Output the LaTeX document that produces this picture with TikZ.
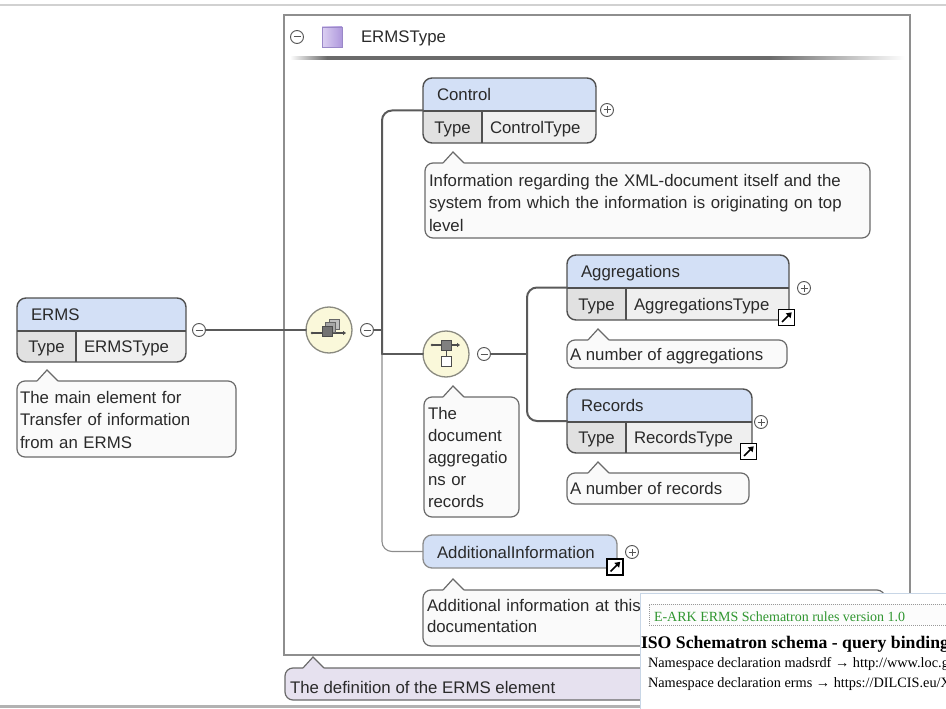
\documentclass[tikz,border=0pt]{standalone}
\usepackage{fontspec}
\setmainfont{Liberation Sans}
\newfontfamily\serifface{Liberation Serif}
\usetikzlibrary{arrows.meta}

\definecolor{textgray}{HTML}{2A2A2A}
\definecolor{boxline}{HTML}{505050}
\definecolor{hdrblue}{HTML}{D3E0F6}
\definecolor{rowgray}{HTML}{EFEFEF}
\definecolor{typegray}{HTML}{E1E1E1}
\definecolor{notefill}{HTML}{FAFAFA}
\definecolor{notegray}{HTML}{6A6A6A}
\definecolor{defill}{HTML}{E6E1EF}
\definecolor{conngray}{HTML}{5A5A5A}
\definecolor{thingray}{HTML}{8C8C8C}
\definecolor{framegray}{HTML}{8E8E8E}
\definecolor{compfill}{HTML}{FAF8DA}
\definecolor{compline}{HTML}{8A8A80}
\definecolor{pmgray}{HTML}{555555}
\definecolor{purpleL}{HTML}{DCD0F2}
\definecolor{purpleR}{HTML}{AE98DC}
\definecolor{purpleedge}{HTML}{9A88C8}
\definecolor{ruleGreen}{RGB}{48,150,48}
\definecolor{overlayedge}{HTML}{C8D6E6}

% header separator: fades in on the left and out on the right
% (the 25bp..75bp band is what gets fitted onto the path)
\pgfdeclarehorizontalshading{sepshade}{100bp}{%
  color(0bp)=(white); color(25bp)=(white); color(28bp)=(black!58);
  color(64bp)=(black!58); color(75bp)=(white); color(100bp)=(white)}

\tikzset{
  every node/.style={inner sep=0pt, outer sep=0pt},
  lbl/.style={text=textgray, font=\fontsize{16.8}{22.5}\selectfont, anchor=base west},
  elem/.style={draw=boxline, line width=1.4pt, rounded corners=9pt, rectangle,
    path picture={
      \fill[hdrblue, sharp corners] (path picture bounding box.north west)
        rectangle ([yshift=-33pt]path picture bounding box.north east);
      \fill[rowgray, sharp corners] ([yshift=-33pt]path picture bounding box.north west)
        rectangle (path picture bounding box.south east);
      \fill[typegray, sharp corners] ([yshift=-33pt]path picture bounding box.north west)
        rectangle ([xshift=59pt]path picture bounding box.south west);
      \draw[boxline, line width=1.2pt, sharp corners] ([yshift=-33pt]path picture bounding box.north west)
        -- ([yshift=-33pt]path picture bounding box.north east);
      \draw[boxline, line width=1.2pt, sharp corners] ([xshift=59pt,yshift=-33pt]path picture bounding box.north west)
        -- ([xshift=59pt]path picture bounding box.south west);
    }},
  optelem/.style={draw=thingray, line width=1.3pt, rounded corners=9pt, fill=hdrblue, rectangle},
  note/.style={draw=notegray, line width=1.2pt, rounded corners=8pt, rectangle},
  noteline/.style={draw=notegray, line width=1.2pt, line join=miter},
  pm/.style={circle, draw=pmgray, line width=0.9pt, fill=white, minimum size=13pt},
  minus/.style={pm, path picture={
      \draw[pmgray, line width=1pt] ([xshift=-3.5pt]path picture bounding box.center)
        -- ([xshift=3.5pt]path picture bounding box.center);}},
  plus/.style={pm, path picture={
      \draw[pmgray, line width=1pt] ([xshift=-3.5pt]path picture bounding box.center)
        -- ([xshift=3.5pt]path picture bounding box.center);
      \draw[pmgray, line width=1pt] ([yshift=-3.5pt]path picture bounding box.center)
        -- ([yshift=3.5pt]path picture bounding box.center);}},
  comp/.style={circle, draw=compline, line width=1.3pt, fill=compfill, minimum size=46pt},
  linkicon/.style={rectangle, draw=black, line width=1.1pt, fill=white, minimum size=16pt,
    path picture={
      \draw[black, line width=1.7pt, -{Triangle[length=5pt,width=6.5pt]}]
        ([shift={(3.5pt,3.5pt)}]path picture bounding box.south west)
        -- ([shift={(-2.8pt,-2.8pt)}]path picture bounding box.north east);}},
  conn/.style={draw=conngray, line width=2pt, line cap=round},
  thinconn/.style={draw=thingray, line width=1.1pt},
  frame/.style={draw=framegray, line width=2pt, rectangle},
  overlaytext/.style={text=black, anchor=base west, font=\serifface\fontsize{14.3}{16}\selectfont},
}

% element box: name, x1, y1, x2, y2, element name, type name
\newcommand\elembox[7]{%
  \node[elem, minimum width={#4-#2}, minimum height={#5-#3}, anchor=north west] (#1) at (#2,#3) {};
  \node[lbl] (#1-name) at (#2+14,#3+22.5) {#6};
  \node[lbl, anchor=base] (#1-key) at (#2+29.5,{(#3+33+#5)/2+6}) {Type};
  \node[lbl] (#1-type) at (#2+67,{(#3+33+#5)/2+6}) {#7};
}

% annotation with a pointer on top: name, x1, y1, x2, y2, pointer x, fill
\newcommand\callout[7]{%
  \node[note, fill=#7, minimum width={#4-#2}, minimum height={#5-#3}, anchor=north west] (#1) at (#2,#3) {};
  \fill[#7] (#6-10,#3+1.2) -- (#6-10,#3) -- (#6,#3-11) -- (#6+11,#3) -- (#6+11,#3+1.2) -- cycle;
  \draw[noteline] (#6-10,#3) -- (#6,#3-11) -- (#6+11,#3);
}

\begin{document}
\begin{tikzpicture}[x=1pt, y=-1pt]
\useasboundingbox (0,0) rectangle (946,709);

% page rules
\draw[draw=black!18, line width=1.3pt] (0,5) -- (946,5);
\draw[draw=black!30, line width=3pt] (0,706.5) -- (946,706.5);

% complex type frame with its header
\node[frame, minimum width=626, minimum height=640, anchor=north west] (frame) at (284,15) {};
\node[minus] (framem) at (297,37) {};
\node[draw=purpleedge, line width=0.6pt, minimum size=20pt, left color=purpleL, right color=purpleR] (ctype) at (332,37) {};
\node[lbl] (ctype-name) at (361,43) {ERMSType};
\shade[shading=sepshade] (290,56.5) rectangle (905,59.5);

% elements
\elembox{control}{423}{78}{596}{143}{Control}{ControlType}
\elembox{erms}{17}{298}{186}{362}{ERMS}{ERMSType}
\elembox{aggs}{567}{255}{789}{320}{Aggregations}{AggregationsType}
\elembox{recs}{567}{389}{752}{453}{Records}{RecordsType}
\node[optelem, minimum width=194, minimum height=33, anchor=north west] (addinfo) at (423,535) {};
\node[lbl] (addinfo-name) at (437,558) {AdditionalInformation};

% compositors
\node[comp] (seq) at (329,330) {};
\node[comp] (cho) at (446,354) {};

% expand / collapse buttons
\node[minus] (ermsm) at (199,330) {};
\node[minus] (seqm) at (367,330) {};
\node[minus] (chom) at (484,354) {};
\node[plus] (controlp) at (607,110) {};
\node[plus] (aggsp) at (804,288) {};
\node[plus] (recsp) at (761,422) {};
\node[plus] (addinfop) at (632,552) {};

% connectors
\coordinate (trunk) at (382,354);
\coordinate (fork) at (527,354);
\draw[thinconn, rounded corners=10pt] (trunk) |- (addinfo.west);
\draw[conn] (ermsm.east) -- (seq.west);
\draw[conn] (seqm.east) -- (seqm.east -| trunk);
\draw[conn, rounded corners=10pt] (control.west) -| (trunk);
\draw[conn] (trunk) -- (cho.west);
\draw[conn] (chom.east) -- (fork);
\draw[conn, rounded corners=10pt] (aggs.west) -| (fork);
\draw[conn, rounded corners=10pt] (recs.west) -| (fork);

% sequence icon
\begin{scope}[shift={(seq.center)}]
  \draw[black!70, line width=1.2pt, -{Triangle[length=3pt,width=4pt]}] (-17,3) -- (17,3);
  \fill[black!70] (-17,3) circle (1.3);
  \draw[black!60, fill=black!25, line width=0.8pt] (0,-11) rectangle (10,-1);
  \draw[black!60, fill=black!35, line width=0.8pt] (-3.5,-7.5) rectangle (6.5,2.5);
  \draw[black!70, fill=black!55, line width=0.8pt] (-7,-4) rectangle (3,6);
\end{scope}

% choice icon
\begin{scope}[shift={(cho.center)}]
  \draw[black!70, line width=1.2pt, -{Triangle[length=3pt,width=4pt]}] (-14,-9) -- (14,-9);
  \fill[black!70] (-14,-9) circle (1.3);
  \draw[black!70, fill=black!50, line width=0.8pt] (-5,-14) rectangle (5,-4);
  \draw[black!70, line width=0.8pt] (0,-4) -- (0,2);
  \draw[black!70, fill=white, line width=1pt] (-5,2) rectangle (5,12);
\end{scope}

% reference links
\node[linkicon] (aggsl) at (786.5,317.5) {};
\node[linkicon] (recsl) at (748.5,451.5) {};
\node[linkicon] (addinfol) at (615,567) {};

% annotations
\callout{ermsnote}{17}{381}{236}{457}{47}{notefill}
\node[lbl, text width=214pt, align=left] (ermsnote-text) at (20,403)
  {The main element for\\Transfer of information\\from an ERMS};

\callout{controlnote}{425}{163}{870}{238}{453}{notefill}
\node[lbl, text width=440pt, align=left] (controlnote-text) at (429,186)
  {Information regarding the XML-document itself and the\\system from which the information is originating on top\\level};

\callout{chonote}{424}{397}{519}{517}{453}{notefill}
\node[lbl, text width=120pt, align=left, font=\fontsize{16.8}{22}\selectfont] (chonote-text) at (428,419)
  {The\\document\\aggregatio\\ns or\\records};

\callout{aggsnote}{567}{340}{787}{368}{598}{notefill}
\node[lbl] (aggsnote-text) at (570,360) {A number of aggregations};

\callout{recsnote}{567}{473}{749}{504}{598}{notefill}
\node[lbl] (recsnote-text) at (570,494) {A number of records};

\callout{addinfonote}{423}{590}{885}{646}{453}{notefill}
\node[lbl, text width=400pt, align=left, font=\fontsize{16.8}{21.5}\selectfont] (addinfonote-text) at (427,611)
  {Additional information at this\\documentation};

\callout{defnote}{285}{668}{720}{700}{313}{defill}
\node[lbl] (defnote-text) at (290,693) {The definition of the ERMS element};

% schematron panel, cut by the page edge on the right
\begin{scope}
  \clip (640,593) rectangle (946,709);
  \fill[white] (640,593) rectangle (946,709);
  \draw[overlayedge, line width=1.2pt] (640.6,709) -- (640.6,593.6) -- (946,593.6);
  \node[draw=black!40, dash pattern=on 1pt off 1pt, line width=0.8pt, fill=black!1,
        minimum width=310, minimum height=21, anchor=north west] (rulebox) at (649,604) {};
  \node[overlaytext, text=ruleGreen, font=\serifface\fontsize{14}{16}\selectfont] (ruletitle) at (654,621)
    {E-ARK ERMS Schematron rules version 1.0};
  \node[overlaytext, font=\serifface\bfseries\fontsize{17.7}{20}\selectfont] (isohead) at (641,648)
    {ISO Schematron schema - query binding};
  \node[overlaytext] (ns1) at (648,667) {Namespace declaration madsrdf → http://www.loc.gov/};
  \node[overlaytext] (ns2) at (648,687) {Namespace declaration erms → https://DILCIS.eu/XML};
\end{scope}
\end{tikzpicture}
\end{document}
